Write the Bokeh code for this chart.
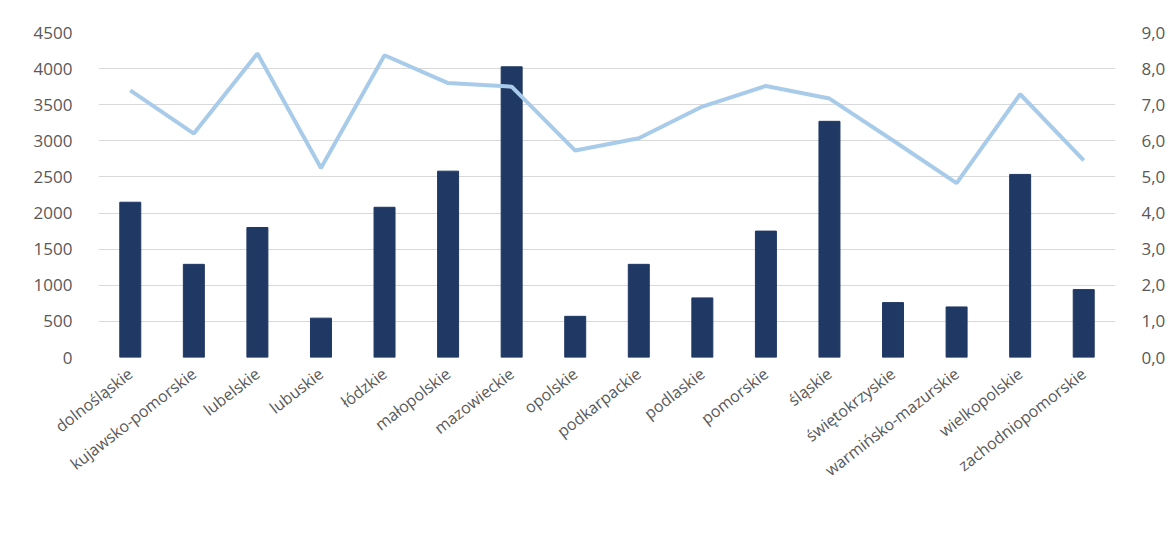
from bokeh.plotting import figure
from bokeh.models import (FactorRange, Range1d, LinearAxis, SingleIntervalTicker,
                          CustomJSTickFormatter, Legend, LegendItem, ColumnDataSource)
from bokeh.embed import file_html
from bokeh.resources import INLINE

regions = ["dolnośląskie", "kujawsko-pomorskie", "lubelskie", "lubuskie", "łódzkie",
           "małopolskie", "mazowieckie", "opolskie", "podkarpackie", "podlaskie",
           "pomorskie", "śląskie", "świętokrzyskie", "warmińsko-mazurskie",
           "wielkopolskie", "zachodniopomorskie"]
pharmacists = [2150, 1290, 1800, 545, 2080, 2580, 4025, 570, 1290, 825,
               1750, 3270, 760, 700, 2535, 940]
per_10k = [7.40, 6.20, 8.42, 5.25, 8.37, 7.60, 7.50, 5.73, 6.07, 6.95,
           7.52, 7.17, 6.01, 4.83, 7.29, 5.46]
bar_label = "liczba pracujących farmaceutów"
line_label = "farmaceuci na 10 tys. mieszkańców"

FONT = "Open Sans"
GREY = "#595959"
BAR = "#1f3864"
LINE = "#a9cbea"

src = ColumnDataSource(dict(x=regions, bars=pharmacists, line=per_10k))

p = figure(x_range=FactorRange(*regions), y_range=Range1d(0, 4500),
           frame_width=1017, frame_height=325, output_backend="svg",
           toolbar_location=None,
           min_border_left=98, min_border_right=50, min_border_top=32,
           min_border_bottom=0)
p.extra_y_ranges = {"right": Range1d(0, 9)}
p.outline_line_color = None
p.background_fill_color = "white"
p.border_fill_color = "white"

bars = p.vbar(x="x", top="bars", width=0.33, source=src, fill_color=BAR,
              line_color=BAR)
line = p.line(x="x", y="line", source=src, y_range_name="right",
              line_color=LINE, line_width=4)

p.xgrid.grid_line_color = None
p.ygrid.grid_line_color = "#d9d9d9"
p.ygrid.grid_line_width = 1
p.yaxis.ticker = SingleIntervalTicker(interval=500)

raxis = LinearAxis(y_range_name="right", ticker=SingleIntervalTicker(interval=1),
                   formatter=CustomJSTickFormatter(code="return tick.toFixed(1).replace('.', ',');"))
p.add_layout(raxis, "right")

for ax in [p.yaxis[0], raxis]:
    ax.axis_line_color = None
    ax.major_tick_line_color = None
    ax.minor_tick_line_color = None
    ax.major_label_text_font = FONT
    ax.major_label_text_font_size = "17px"
    ax.major_label_text_color = GREY
    ax.major_label_standoff = 20

xa = p.xaxis[0]
xa.axis_line_color = None
xa.major_tick_line_color = None
xa.major_label_orientation = 0.66
xa.major_label_text_font = FONT
xa.major_label_text_font_size = "16px"
xa.major_label_text_color = GREY
xa.major_label_standoff = 8

legend = Legend(items=[LegendItem(label=bar_label, renderers=[bars]),
                       LegendItem(label=line_label, renderers=[line])],
                orientation="horizontal", location="top_center",
                label_text_font=FONT, label_text_font_size="18px",
                label_text_color=GREY, glyph_width=46, glyph_height=12,
                label_standoff=5, spacing=125, padding=2, margin=28,
                border_line_color=None, background_fill_alpha=0)
p.add_layout(legend, "below")

open("out.html", "w").write(file_html(p, INLINE))
